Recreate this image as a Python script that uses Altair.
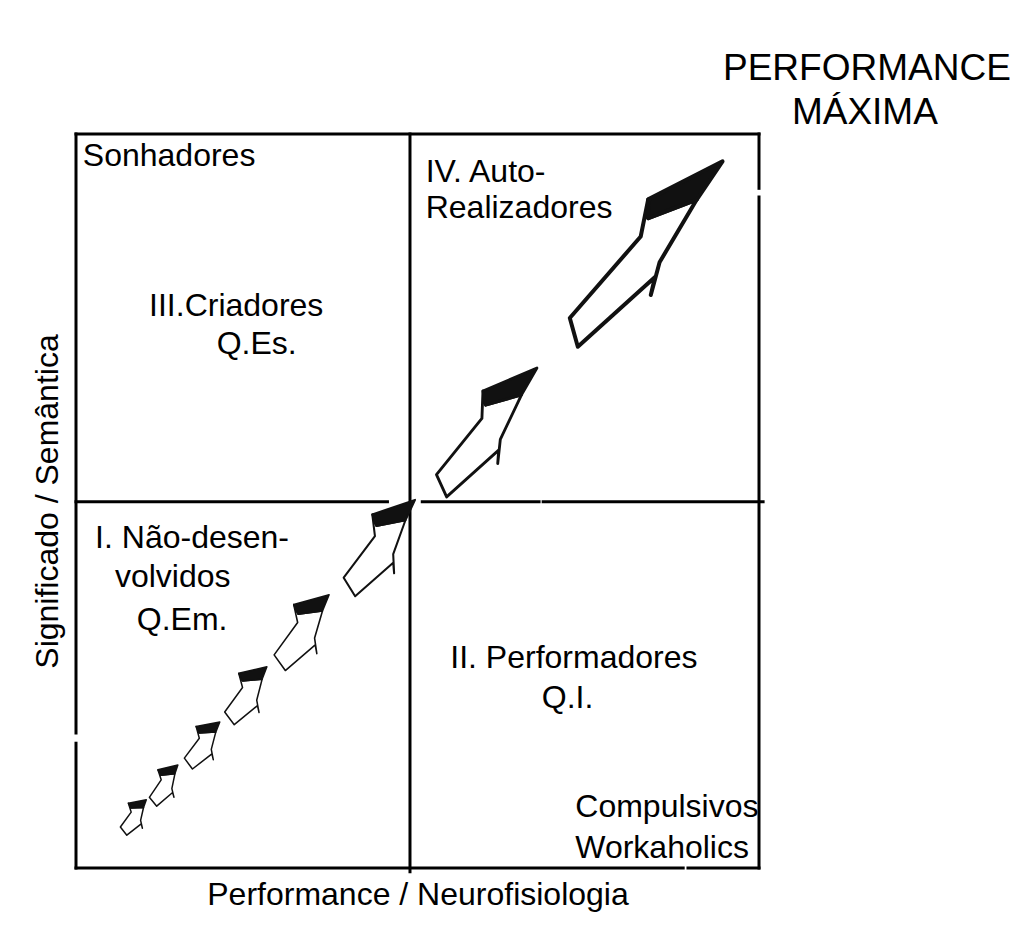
import altair as alt
import pandas as pd

# ---------------- data (axis units: 0-100 on both axes) ----------------
# arrows along the diagonal (centre position, length in x-units, angle, relative shaft width)
seta_x = [8.57, 13.03, 18.67, 25.11, 33.31, 44.66, 60.25, 83.38]
seta_y = [7.08, 11.44, 16.96, 23.77, 32.43, 44.0, 59.81, 84.2]
seta_comprimento = [5.86, 6.73, 7.91, 9.66, 12.74, 16.54, 22.99, 34.4]
seta_angulo = [36, 34, 37, 36, 36, 37, 39, 41]
seta_largura = [0.25, 0.24, 0.24, 0.23, 0.21, 0.18, 0.14, 0.106]

# quadrant labels (left aligned)
rotulo_texto = ["Sonhadores", "III.Criadores", "Q.Es.", "IV. Auto-", "Realizadores",
                "I. Não-desen-", "volvidos", "Q.Em.", "II. Performadores", "Q.I.",
                "Compulsivos", "Workaholics"]
rotulo_x = [1.0, 10.7, 20.6, 51.2, 51.2, 2.8, 5.7, 8.9, 54.8, 68.2, 73.1, 73.1]
rotulo_y = [95.6, 75.2, 70.0, 93.5, 88.6, 43.6, 38.3, 32.4, 27.2, 21.8, 6.9, 1.4]

# heading outside the frame (centred)
titulo_texto = ["PERFORMANCE", "MÁXIMA"]
titulo_x = [115.8, 115.5]
titulo_y = [107.4, 101.4]

# frame and quadrant dividers (segments)
seg_x1 = [0, 0, 0, 100, 100, 0, 89.6, 48.9, 0, 50.7, 68.4]
seg_y1 = [100, 0, 18.4, 0, 92.6, 0, 0, -0.5, 49.9, 49.9, 49.9]
seg_x2 = [100, 0, 0, 100, 100, 88.9, 100, 48.9, 45.6, 67.8, 100.6]
seg_y2 = [100, 17.0, 100, 91.4, 100, 0, 0, 100, 49.9, 49.9, 49.9]

eixo_x_titulo = "Performance / Neurofisiologia"
eixo_y_titulo = "Significado / Semântica"

# ---------------- layout ----------------
W, H = 683, 734
PX_POR_UNIDADE = W / 100.0
FONT = "Liberation Sans"


def corpo(h):
    pts = [(-h, 0.86), (h, 1.0), (2.0 * h, 0.12), (2.7 * h, 0.26), (1.5 * h, 0.0),
           (0.45 * h, -0.61), (-1.5 * h, -0.22), (-2.5 * h, -0.34), (-h, -0.06)]
    return "M " + " L ".join(f"{x:.3f} {y:.3f}" for x, y in pts) + " Z"


def cabeca(h):
    pts = [(-2.5 * h, -0.34), (0, -1), (0.45 * h, -0.61), (-1.5 * h, -0.22)]
    return "M " + " L ".join(f"{x:.3f} {y:.3f}" for x, y in pts) + " Z"


setas = pd.DataFrame({
    "x": seta_x, "y": seta_y, "comprimento": seta_comprimento,
    "angulo": seta_angulo, "largura": seta_largura,
})
setas["forma_corpo"] = [corpo(h) for h in seta_largura]
setas["forma_cabeca"] = [cabeca(h) for h in seta_largura]

rotulos = pd.DataFrame({"texto": rotulo_texto, "x": rotulo_x, "y": rotulo_y})
titulo = pd.DataFrame({"texto": titulo_texto, "x": titulo_x, "y": titulo_y})
segs = pd.DataFrame({"x1": seg_x1, "y1": seg_y1, "x2": seg_x2, "y2": seg_y2})

sx = alt.Scale(domain=[0, 100], nice=False, zero=False)
sy = alt.Scale(domain=[0, 100], nice=False, zero=False)
ax_x = alt.Axis(title=eixo_x_titulo, labels=False, ticks=False, domain=False, grid=False,
                titleFontSize=32, titleFont=FONT, titleFontWeight="normal",
                titleColor="black", titlePadding=11)
ax_y = alt.Axis(title=eixo_y_titulo, labels=False, ticks=False, domain=False, grid=False,
                titleFontSize=32, titleFont=FONT, titleFontWeight="normal",
                titleColor="black", titlePadding=12)


def X(f):
    return alt.X(f"{f}:Q", scale=sx, axis=ax_x)


def Y(f):
    return alt.Y(f"{f}:Q", scale=sy, axis=ax_y)


linhas = alt.Chart(segs).mark_rule(color="black", strokeWidth=3, strokeCap="square").encode(
    x=X("x1"), y=Y("y1"), x2="x2:Q", y2="y2:Q"
)

base_setas = alt.Chart(setas).transform_calculate(
    tamanho=f"pow(datum.comprimento * {PX_POR_UNIDADE}, 2)",
    traco=f"min(4, max(1.5, datum.comprimento * {PX_POR_UNIDADE} / 55))",
)

corpo_setas = base_setas.mark_point(filled=True, fill="white", stroke="#111111",
                                    strokeJoin="round", opacity=1).encode(
    x=X("x"), y=Y("y"),
    shape=alt.Shape("forma_corpo:N", scale=None),
    size=alt.Size("tamanho:Q", scale=None),
    angle=alt.Angle("angulo:Q", scale=None),
    strokeWidth=alt.StrokeWidth("traco:Q", scale=None),
)

cabeca_setas = base_setas.mark_point(filled=True, fill="#111111", stroke="#111111",
                                     strokeJoin="round", opacity=1).encode(
    x=X("x"), y=Y("y"),
    shape=alt.Shape("forma_cabeca:N", scale=None),
    size=alt.Size("tamanho:Q", scale=None),
    angle=alt.Angle("angulo:Q", scale=None),
    strokeWidth=alt.StrokeWidth("traco:Q", scale=None),
)

textos = alt.Chart(rotulos).mark_text(align="left", baseline="alphabetic", font=FONT,
                                      fontSize=32, color="black").encode(
    x=X("x"), y=Y("y"), text="texto:N"
)

textos_titulo = alt.Chart(titulo).mark_text(align="center", baseline="alphabetic", font=FONT,
                                            fontSize=37, color="black").encode(
    x=X("x"), y=Y("y"), text="texto:N"
)

chart = alt.layer(linhas, corpo_setas, cabeca_setas, textos, textos_titulo).properties(
    width=W, height=H,
    padding={"left": 68, "top": 126, "right": 258, "bottom": 55},
    autosize=alt.AutoSizeParams(type="none"),
    background="white",
).configure_view(stroke=None)

chart.save("out.html", embed_options={"renderer": "svg", "actions": False})
